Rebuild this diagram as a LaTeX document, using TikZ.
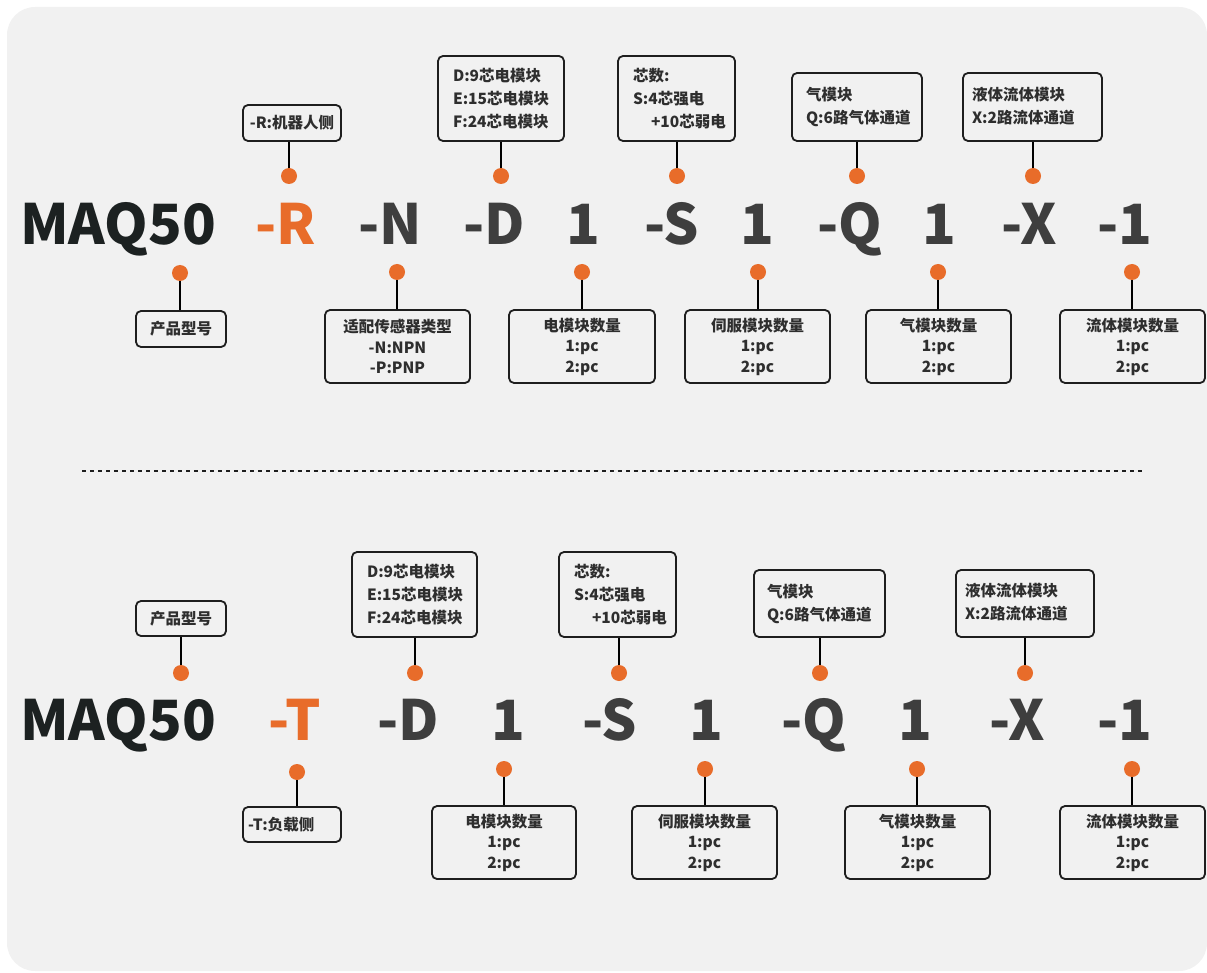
\documentclass[tikz,border=0pt]{standalone}
\usepackage{fontspec}
\setmainfont{Noto Sans CJK SC}
\definecolor{bgc}{HTML}{F1F1F1}
\definecolor{boxline}{HTML}{1E1E1E}
\definecolor{txt}{HTML}{2E2E2E}
\definecolor{bigg}{HTML}{3E3E3E}
\definecolor{bigd}{HTML}{1C2121}
\definecolor{org}{HTML}{E86C2A}
\tikzset{
  bigtxt/.style={anchor=base west,inner sep=0pt,font=\fontsize{55.5}{56}\selectfont\bfseries,text=bigg},
  dotn/.style={circle,fill=org,minimum size=16pt,inner sep=0pt},
  infobox/.style={draw=boxline,line width=1.8pt,rounded corners=5pt,fill=bgc,text=txt,
     font=\fontsize{15.5}{23}\selectfont\bfseries,inner sep=0pt},
  lbox/.style={infobox,align=left,inner xsep=15pt},
  cbox/.style={infobox,align=center,font=\fontsize{15.5}{20.5}\selectfont\bfseries},
  conn/.style={line width=2.2pt,draw=black}
}
\begin{document}
\begin{tikzpicture}[x=1pt,y=-1pt]
\useasboundingbox (0,0) rectangle (1207,973);
\fill[bgc,rounded corners=28pt] (7,7) rectangle (1207,971);

% ================= upper row =================
\node[bigtxt,text=bigd] (uM) at (20,245) {MAQ50};
\node[bigtxt,text=org] (uR) at (255,245) {-R};
\node[bigtxt] (uN) at (358,245) {-N};
\node[bigtxt] (uD) at (463,245) {-D};
\node[bigtxt] (u1a) at (566,245) {1};
\node[bigtxt] (uS) at (644,245) {-S};
\node[bigtxt] (u1b) at (740,245) {1};
\node[bigtxt] (uQ) at (817,245) {-Q};
\node[bigtxt] (u1c) at (922,245) {1};
\node[bigtxt] (uX) at (1001,245) {-X};
\node[bigtxt] (u1d) at (1097,245) {-1};

% dots
\node[dotn] (duR) at (289,176) {};
\node[dotn] (duD) at (501,176) {};
\node[dotn] (duS) at (677,176) {};
\node[dotn] (duQ) at (857,176) {};
\node[dotn] (duX) at (1033,176) {};
\node[dotn] (duM) at (180,273) {};
\node[dotn] (duN) at (397,272) {};
\node[dotn] (du1a) at (582,272) {};
\node[dotn] (du1b) at (758,272) {};
\node[dotn] (du1c) at (938,272) {};
\node[dotn] (du1d) at (1132,272) {};

% top boxes
\node[cbox,minimum width=98pt,minimum height=36pt] (buR) at (292,123) {-R:机器人侧};
\node[lbox,text width=96pt,minimum height=85pt] (buD) at (501,98.5) {D:9芯电模块\\E:15芯电模块\\F:24芯电模块};
\node[lbox,text width=87pt,minimum height=85pt] (buS) at (676.5,98.5) {芯数:\\S:4芯强电\\\hspace*{18pt}+10芯弱电};
\node[lbox,inner xsep=14pt,text width=102pt,minimum height=68pt] (buQ) at (857,107) {气模块\\Q:6路气体通道};
\node[lbox,inner xsep=9pt,text width=121pt,minimum height=68pt] (buX) at (1032.5,107) {\raisebox{4pt}{液体流体模块}\\\raisebox{4pt}{X:2路流体通道}};

% bottom boxes
\node[cbox,minimum width=90pt,minimum height=36pt] (buM) at (181,329) {产品型号};
\node[cbox,minimum width=145pt,minimum height=73pt] (buN) at (397.5,346.5) {适配传感器类型\\-N:NPN\\-P:PNP};
\node[cbox,minimum width=146pt,minimum height=73pt] (bu1a) at (582,346.5) {电模块数量\\1:pc\\2:pc};
\node[cbox,minimum width=145pt,minimum height=73pt] (bu1b) at (757.5,346.5) {伺服模块数量\\1:pc\\2:pc};
\node[cbox,minimum width=145pt,minimum height=73pt] (bu1c) at (938.5,346.5) {气模块数量\\1:pc\\2:pc};
\node[cbox,minimum width=145pt,minimum height=73pt] (bu1d) at (1132.5,346.5) {流体模块数量\\1:pc\\2:pc};

% connectors
\draw[conn] (duR.north) -- (duR.north |- buR.south);
\draw[conn] (duD.north) -- (duD.north |- buD.south);
\draw[conn] (duS.north) -- (duS.north |- buS.south);
\draw[conn] (duQ.north) -- (duQ.north |- buQ.south);
\draw[conn] (duX.north) -- (duX.north |- buX.south);
\draw[conn] (duM.south) -- (duM.south |- buM.north);
\draw[conn] (duN.south) -- (duN.south |- buN.north);
\draw[conn] (du1a.south) -- (du1a.south |- bu1a.north);
\draw[conn] (du1b.south) -- (du1b.south |- bu1b.north);
\draw[conn] (du1c.south) -- (du1c.south |- bu1c.north);
\draw[conn] (du1d.south) -- (du1d.south |- bu1d.north);

% divider
\coordinate (divL) at (82,471);
\coordinate (divR) at (1143,471);
\draw[line width=1.3pt,draw=boxline,dash pattern=on 4pt off 4pt] (divL) -- (divR);

% ================= lower row =================
\node[bigtxt,text=bigd] (lM) at (20,740) {MAQ50};
\node[bigtxt,text=org] (lT) at (268,740) {-T};
\node[bigtxt] (lD) at (377,740) {-D};
\node[bigtxt] (l1a) at (491,740) {1};
\node[bigtxt] (lS) at (582,740) {-S};
\node[bigtxt] (l1b) at (689,740) {1};
\node[bigtxt] (lQ) at (781,740) {-Q};
\node[bigtxt] (l1c) at (898,740) {1};
\node[bigtxt] (lX) at (989,740) {-X};
\node[bigtxt] (l1d) at (1097,740) {-1};

\node[dotn] (dlM) at (181,673) {};
\node[dotn] (dlD) at (415,673) {};
\node[dotn] (dlS) at (619,673) {};
\node[dotn] (dlQ) at (820,673) {};
\node[dotn] (dlX) at (1025,673) {};
\node[dotn] (dlT) at (297,772) {};
\node[dotn] (dl1a) at (504,769) {};
\node[dotn] (dl1b) at (705,769) {};
\node[dotn] (dl1c) at (917,769) {};
\node[dotn] (dl1d) at (1132,769) {};

\node[cbox,minimum width=90pt,minimum height=35pt] (blM) at (181,618.5) {产品型号};
\node[lbox,text width=95pt,minimum height=85pt] (blD) at (414.5,594.5) {D:9芯电模块\\E:15芯电模块\\F:24芯电模块};
\node[lbox,text width=87pt,minimum height=85pt] (blS) at (617.5,594.5) {芯数:\\S:4芯强电\\\hspace*{18pt}+10芯弱电};
\node[lbox,inner xsep=13pt,text width=105pt,minimum height=67pt] (blQ) at (819.5,603.5) {气模块\\Q:6路气体通道};
\node[lbox,inner xsep=9pt,text width=120pt,minimum height=67pt] (blX) at (1025,603.5) {\raisebox{4pt}{液体流体模块}\\\raisebox{4pt}{X:2路流体通道}};

\node[lbox,inner xsep=5pt,text width=88pt,minimum height=35pt] (blT) at (292,824.5) {-T:负载侧};
\node[cbox,minimum width=144pt,minimum height=73pt] (bl1a) at (504,842.5) {电模块数量\\1:pc\\2:pc};
\node[cbox,minimum width=145pt,minimum height=73pt] (bl1b) at (704.5,842.5) {伺服模块数量\\1:pc\\2:pc};
\node[cbox,minimum width=145pt,minimum height=73pt] (bl1c) at (917.5,842.5) {气模块数量\\1:pc\\2:pc};
\node[cbox,minimum width=145pt,minimum height=73pt] (bl1d) at (1132.5,842.5) {流体模块数量\\1:pc\\2:pc};

\draw[conn] (dlM.north) -- (dlM.north |- blM.south);
\draw[conn] (dlD.north) -- (dlD.north |- blD.south);
\draw[conn] (dlS.north) -- (dlS.north |- blS.south);
\draw[conn] (dlQ.north) -- (dlQ.north |- blQ.south);
\draw[conn] (dlX.north) -- (dlX.north |- blX.south);
\draw[conn] (dlT.south) -- (dlT.south |- blT.north);
\draw[conn] (dl1a.south) -- (dl1a.south |- bl1a.north);
\draw[conn] (dl1b.south) -- (dl1b.south |- bl1b.north);
\draw[conn] (dl1c.south) -- (dl1c.south |- bl1c.north);
\draw[conn] (dl1d.south) -- (dl1d.south |- bl1d.north);
\end{tikzpicture}
\end{document}
